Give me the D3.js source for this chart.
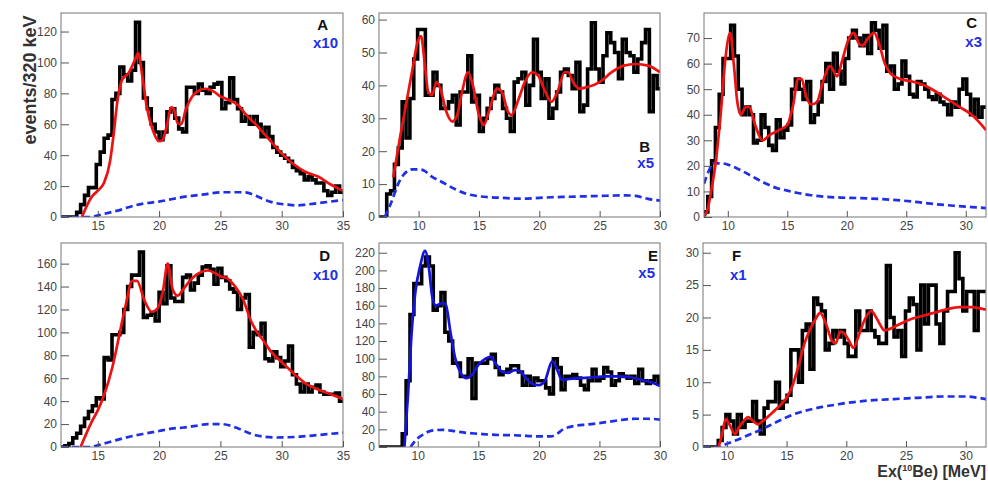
<!DOCTYPE html>
<html>
<head>
<meta charset="utf-8">
<script src="https://cdn.jsdelivr.net/npm/d3@7/dist/d3.min.js"></script>
<style>
  body { margin: 0; background: #fff; }
  text { font-family: "Liberation Sans", Arial, sans-serif; }
</style>
</head>
<body>
<div id="chart"></div>
<script>
// bin width of every histogram (MeV)
const binWidth = 0.32;

// histogram counts, first bin edge given separately
const startA = 12.0;
const countsA = [0,0,0,0,3,8,14,19,19,34,42,51,53,76,80,97,92,88,95,126,100,77,70,60,55,50,55,68,70,64,57,55,84,84,80,86,82,80,84,86,87,70,74,90,76,70,62,65,60,65,60,52,58,52,45,42,40,38,36,32,30,28,24,26,24,22,22,17,14,16,20,16];
const startB = 6.72;
const countsB = [0,0,7,8,16,21,35,24,36,48,57,57,37,37,44,40,33,33,35,37,28,38,38,49,35,37,26,30,33,36,40,38,33,30,26,41,42,44,34,40,54,44,36,42,30,33,38,44,45,43,39,47,32,34,45,59,45,41,49,56,53,50,42,54,50,49,44,48,53,57,32,43,39];
const startC = 8.0;
const countsC = [2,8,22,35,48,62,62,75,63,50,40,43,40,29,30,40,35,28,26,38,31,34,36,50,54,50,46,53,37,40,45,53,60,50,64,57,52,62,70,73,70,67,71,64,76,73,66,75,57,59,50,52,61,55,48,47,53,52,50,47,46,48,45,44,40,45,43,50,54,48,40,46,39,43];
const startD = 12.0;
const countsD = [0,1,3,8,12,18,25,31,36,43,42,78,76,98,98,100,120,140,150,150,170,113,115,117,110,135,125,158,130,127,127,148,150,137,143,150,157,158,155,142,156,148,145,138,135,120,130,133,87,100,98,108,77,75,83,78,70,75,88,63,55,48,55,48,52,54,48,46,46,46,47,40];
const startE = 6.8;
const countsE = [0,0,0,0,0,0,15,75,150,185,185,205,215,205,155,160,175,130,120,95,95,80,80,100,55,95,95,95,100,105,90,82,85,88,92,92,85,70,80,70,78,75,75,67,60,100,90,65,80,80,82,78,70,65,75,88,75,78,90,85,70,75,83,80,78,80,72,88,75,72,75,80,72];
const startF = 8.0;
const countsF = [0,0,0,0,1,3,5,4,2,5,3,4,4,7,4,2,6,7,7,10,6,7,8,15,15,10,18,19,12,23,22,21,15,16,18,17,18,16,14,14,21,18,18,21,18,17,16,16,28,20,17,18,14,21,23,22,15,25,19,25,25,19,16,21,24,24,30,26,21,24,24,18,24,24];

// fit curves [Ex, value]
const fitA = [[13.7,0],[14.5,13],[15,17],[15.5,22],[16,36],[16.3,54],[16.6,75],[17,89],[17.5,93],[18,101],[18.3,106],[18.6,93],[19,71],[19.5,56],[20,49],[20.3,50],[20.6,58],[21,71],[21.2,70],[21.5,61],[21.8,60],[22.2,70],[22.7,78],[23.3,82],[23.8,83],[24.5,81],[25,78],[25.6,76],[26.5,72],[27,67],[28,59],[29,50],[30,41],[31,34],[32,29],[33,26],[34,21],[35,17]];
const fitB = [[7.9,12],[8.5,25],[9,35],[9.5,45],[9.9,53],[10.2,55],[10.5,47],[10.8,38],[11.1,37],[11.5,41],[11.8,39],[12.3,32],[12.8,29],[13.2,31],[13.6,38],[14.1,44],[14.5,40],[15,31],[15.4,28],[15.9,33],[16.5,39],[16.9,38],[17.4,32],[17.7,31],[18.3,36],[18.8,41],[19.4,44],[19.9,43],[20.5,38],[21,35],[21.5,38],[22.1,44],[22.4,44],[22.8,41],[23.3,39],[24,39.5],[25,41],[26,44],[27,46],[28,46.5],[29,46],[30,44]];
const fitC = [[8,0],[8.3,3],[8.6,10],[9,22],[9.4,40],[9.8,62],[10.2,72],[10.5,60],[10.8,45],[11.1,40],[11.5,43],[11.8,43],[12.3,36],[12.9,30],[13.5,32],[14.5,34.5],[15,36],[15.5,44],[15.9,54],[16.2,54],[16.6,47],[17,44],[17.5,45],[18,53],[18.6,59],[19.2,55],[19.6,61],[20.2,70],[20.6,72],[21,68],[21.3,67],[21.8,70],[22.3,72],[22.7,68],[23.2,60],[23.7,56],[24.5,54],[25.5,53],[26.5,51.5],[27.5,49],[28.5,46],[29.5,43],[30.5,40],[31.7,34]];
const fitD = [[13.6,0],[14.5,22],[15,32],[15.5,45],[16.2,70],[16.8,100],[17.3,125],[17.8,145],[18.2,145],[18.8,128],[19.4,118],[19.8,120],[20.3,135],[20.7,160],[21.1,138],[21.5,132],[22,138],[22.5,145],[23,150],[23.5,153],[24,154],[24.5,152],[25,149],[25.6,147],[26.2,140],[26.8,130],[27.5,110],[28,100],[28.5,93],[29,85],[29.5,79],[30,74],[31,64],[32,55],[33,50],[34,46],[35,42]];
const fitE = [[8.9,0],[9.2,60],[9.5,130],[9.8,175],[10.2,205],[10.6,222],[10.9,205],[11.2,170],[11.5,160],[12,163],[12.3,162],[12.7,130],[13.1,100],[13.5,85],[14,78],[14.5,82],[15,93],[15.6,100],[16,102],[16.5,93],[17,85],[17.5,84],[18,87],[18.4,86],[19,77],[19.5,71],[20,70],[20.5,75],[21.1,97],[21.5,88],[21.9,76],[22.5,77],[23.5,78],[24.5,79],[25.5,80],[26.5,80],[27.5,79],[28.5,76],[29.3,73],[30,69]];
const fitF = [[9.3,0],[9.6,2],[9.9,4.3],[10.2,3.5],[10.7,2],[11,3],[11.4,4],[11.8,4.6],[12.2,4],[12.6,3.5],[13,4],[13.8,5.3],[14.5,6.5],[15,7.6],[15.5,9.5],[16,12.5],[16.5,16],[17,18.3],[17.5,20],[17.8,20.7],[18.3,19],[18.8,16.4],[19.1,16],[19.5,17.8],[19.8,17.6],[20.2,16.5],[20.6,15.3],[21,17],[21.5,19.5],[22.1,21],[22.5,20],[22.8,19],[23.2,18],[23.6,18.2],[24.5,19],[25.5,19.8],[26.5,20.3],[27.5,20.8],[28.5,21.3],[29.5,21.6],[30.5,21.6],[31.7,21.2]];

// background (dashed) curves [Ex, value]
const bgA = [[12,0],[14.3,0],[15.5,2],[17,5],[18,7.5],[19,9],[20,10],[21,11.5],[22,13],[23,14],[24,15],[25,16],[26,16],[27,16],[27.8,14],[28.5,11.5],[29.5,9],[30.5,8],[31.3,7.5],[32,8],[33,9],[34,10],[35,11]];
const bgB = [[7.2,0],[7.8,5],[8.3,10],[8.8,13],[9.5,14.5],[10,14.5],[10.5,14],[11,12.5],[12,10.5],[13,8.5],[14,7],[15,6.3],[16,6],[17,5.8],[18,5.6],[19,5.6],[20,5.8],[21,6],[22,6.1],[23,6.2],[24,6.3],[25,6.4],[26,6.5],[27,6.6],[28,6.4],[29,5.5],[30,5]];
const bgC = [[8,13],[8.4,18],[8.8,21],[9.5,21],[10,20.5],[11,18.5],[12,16],[13,13.5],[14,11.5],[15,10.3],[16,9.3],[17,8.5],[18,8],[19.5,7.6],[21,7.4],[23,7],[24.5,6.5],[26,5.8],[27.5,5],[29,4.4],[30.5,3.9],[31.7,3.5]];
const bgD = [[12,0],[14.3,0],[15.5,3],[16.5,6],[18,10],[19,12],[20,14],[21,16],[22,17],[23,18.5],[24,20],[25,20],[25.7,19],[26.5,16],[27.5,11.5],[28.5,9],[29.5,8.3],[30.5,8.5],[31.5,9],[32.5,10],[33.5,11],[35,12.5]];
const bgE = [[9.4,0],[10,10],[10.5,14.5],[11,18],[12,19.5],[13,18],[14,16],[15,15],[16,14],[17,13.5],[18,13.3],[19,12.5],[20,12],[21,12],[21.5,15],[22,20],[22.5,22.5],[23,24],[24,25.5],[25,27],[26,29],[27,31],[28,32],[29,32],[30,31]];
const bgF = [[8,0],[9.3,0],[10,0.5],[11,1.2],[12,2],[13,2.8],[14,3.7],[15,4.6],[16,5.3],[17,5.8],[18,6.2],[19,6.5],[20,6.8],[21,7],[22,7.2],[23,7.3],[24,7.4],[25,7.5],[26,7.6],[27,7.7],[28,7.8],[29,7.8],[30,7.8],[31,7.6],[31.7,7.4]];

const panels = [
  { tag: "A", scale: "x10", x0: 61,  y0: 13,  x1: 343, y1: 217, xDom: [12, 35],   yDom: [0, 132],  yStep: 20, start: startA, counts: countsA, fit: fitA, bg: bgA, fitColor: "#ee1111", tagPos: [328, 30, 338, 48, "end"] },
  { tag: "B", scale: "x5",  x0: 379, y0: 13,  x1: 660, y1: 217, xDom: [6.72, 30], yDom: [0, 62],   yStep: 10, start: startB, counts: countsB, fit: fitB, bg: bgB, fitColor: "#ee1111", tagPos: [650, 152, 654, 168, "end"] },
  { tag: "C", scale: "x3",  x0: 704, y0: 13,  x1: 986, y1: 217, xDom: [8, 31.7],  yDom: [0, 79.8], yStep: 10, start: startC, counts: countsC, fit: fitC, bg: bgC, fitColor: "#ee1111", tagPos: [977, 28, 982, 47, "end"] },
  { tag: "D", scale: "x10", x0: 61,  y0: 243, x1: 343, y1: 447, xDom: [12, 35],   yDom: [0, 178],  yStep: 20, start: startD, counts: countsD, fit: fitD, bg: bgD, fitColor: "#ee1111", tagPos: [330, 261, 338, 280, "end"] },
  { tag: "E", scale: "x5",  x0: 379, y0: 243, x1: 660, y1: 447, xDom: [6.8, 30],  yDom: [0, 231],  yStep: 20, start: startE, counts: countsE, fit: fitE, bg: bgE, fitColor: "#1414d8", tagPos: [658, 261, 655, 278, "end"] },
  { tag: "F", scale: "x1",  x0: 703, y0: 243, x1: 986, y1: 447, xDom: [8, 31.7],  yDom: [0, 31.5], yStep: 5,  start: startF, counts: countsF, fit: fitF, bg: bgF, fitColor: "#ee1111", tagPos: [732, 261, 730, 280, "start"] }
];

const svg = d3.select("#chart").append("svg")
  .attr("width", 988)
  .attr("height", 482);

panels.forEach(function (p, k) {
  const x = d3.scaleLinear().domain(p.xDom).range([p.x0, p.x1]);
  const y = d3.scaleLinear().domain(p.yDom).range([p.y1, p.y0]);

  const clipId = "clip" + k;
  svg.append("clipPath").attr("id", clipId)
    .append("rect")
    .attr("x", p.x0).attr("y", p.y0)
    .attr("width", p.x1 - p.x0).attr("height", p.y1 - p.y0);

  const g = svg.append("g").attr("clip-path", "url(#" + clipId + ")");

  // histogram
  let hist = p.counts.map(function (c, i) { return { x: p.start + i * binWidth, y: c }; });
  hist.push({ x: p.start + p.counts.length * binWidth, y: p.counts[p.counts.length - 1] });
  g.append("path")
    .datum(hist)
    .attr("fill", "none")
    .attr("stroke", "#000")
    .attr("stroke-width", 3.6)
    .attr("d", d3.line().curve(d3.curveStepAfter)
      .x(function (d) { return x(d.x); })
      .y(function (d) { return y(d.y); }));

  // background curve
  g.append("path")
    .datum(p.bg)
    .attr("fill", "none")
    .attr("stroke", "#1f2fe6")
    .attr("stroke-width", 2.7)
    .attr("stroke-dasharray", "7,4")
    .attr("d", d3.line().curve(d3.curveMonotoneX)
      .x(function (d) { return x(d[0]); })
      .y(function (d) { return y(d[1]); }));

  // fit curve
  g.append("path")
    .datum(p.fit)
    .attr("fill", "none")
    .attr("stroke", p.fitColor)
    .attr("stroke-width", 2.7)
    .attr("d", d3.line().curve(d3.curveMonotoneX)
      .x(function (d) { return x(d[0]); })
      .y(function (d) { return y(d[1]); }));

  // frame
  svg.append("rect")
    .attr("x", p.x0).attr("y", p.y0)
    .attr("width", p.x1 - p.x0).attr("height", p.y1 - p.y0)
    .attr("fill", "none")
    .attr("stroke", "#777")
    .attr("stroke-width", 1);

  // y axis, ticks pointing inward
  const yMajor = d3.range(p.yDom[0], p.yDom[1] + 0.001, p.yStep);
  const yMinor = d3.range(p.yDom[0], p.yDom[1], p.yStep / 5);
  const ya = svg.append("g").attr("transform", "translate(" + p.x0 + ",0)");
  ya.call(d3.axisLeft(y).tickValues(yMinor).tickSize(-4).tickFormat(""));
  ya.call(d3.axisLeft(y).tickValues(yMajor).tickSize(-8).tickPadding(4).tickFormat(d3.format("d")));
  ya.select(".domain").remove();

  // x axis
  const xMajor = d3.range(Math.ceil(p.xDom[0] / 5) * 5, p.xDom[1] + 0.001, 5);
  const xMinor = d3.range(Math.ceil(p.xDom[0]), p.xDom[1] + 0.001, 1);
  const xa = svg.append("g").attr("transform", "translate(0," + p.y1 + ")");
  xa.call(d3.axisBottom(x).tickValues(xMinor).tickSize(-3).tickFormat(""));
  xa.call(d3.axisBottom(x).tickValues(xMajor).tickSize(-6).tickPadding(4).tickFormat(d3.format("d")));
  xa.select(".domain").remove();

  svg.selectAll(".tick line").attr("stroke", "#555");
  svg.selectAll(".tick text")
    .attr("fill", "#444")
    .style("font-size", "12px")
    .style("font-family", "'Liberation Sans', Arial, sans-serif");

  // panel tag and scaling factor
  svg.append("text")
    .attr("x", p.tagPos[0]).attr("y", p.tagPos[1])
    .attr("text-anchor", p.tagPos[4])
    .attr("font-size", 15).attr("font-weight", "bold")
    .attr("fill", "#111")
    .text(p.tag);
  svg.append("text")
    .attr("x", p.tagPos[2]).attr("y", p.tagPos[3])
    .attr("text-anchor", p.tagPos[4])
    .attr("font-size", 15).attr("font-weight", "bold")
    .attr("fill", "#1f2fe6")
    .text(p.scale);
});

// axis titles
svg.append("text")
  .attr("transform", "translate(36,80) rotate(-90)")
  .attr("text-anchor", "middle")
  .attr("font-size", 18).attr("font-weight", "bold")
  .attr("fill", "#333")
  .text("events/320 keV");

const xt = svg.append("text")
  .attr("x", 986).attr("y", 477)
  .attr("text-anchor", "end")
  .attr("font-size", 16).attr("font-weight", "bold")
  .attr("fill", "#333");
xt.append("tspan").text("Ex(");
xt.append("tspan").attr("font-size", 9).attr("dy", -6).text("10");
xt.append("tspan").attr("dy", 6).text("Be) [MeV]");
</script>
</body>
</html>
